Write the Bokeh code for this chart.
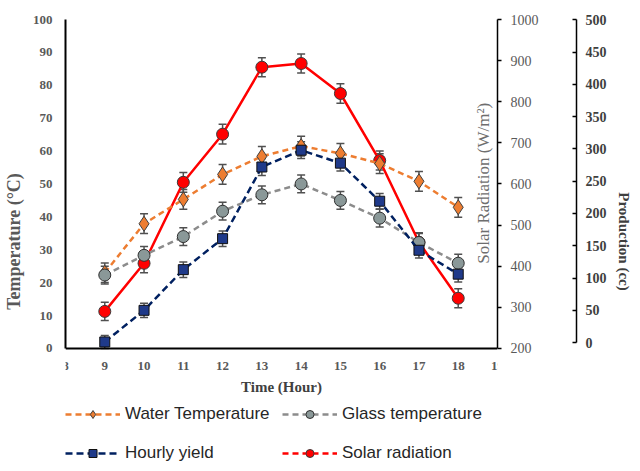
from math import pi
from bokeh.plotting import figure
from bokeh.models import (Range1d, LinearAxis, ColumnDataSource, Whisker, TeeHead,
                          Legend, LegendItem, Label, FixedTicker)
from bokeh.embed import file_html
from bokeh.resources import INLINE

# ---- data ----
hours = [9, 10, 11, 12, 13, 14, 15, 16, 17, 18]
water_temp = [23.0, 37.9, 45.3, 52.9, 58.4, 61.5, 59.3, 56.2, 50.8, 42.9]
water_err = [3.0, 3.0, 3.0, 3.0, 3.0, 3.0, 3.0, 3.0, 3.0, 3.0]
glass_temp = [22.3, 28.3, 34.0, 41.7, 46.7, 50.0, 45.0, 39.6, 32.2, 25.9]
glass_err = [2.7, 2.7, 2.7, 2.7, 2.7, 2.7, 2.7, 2.7, 2.7, 2.7]
hourly_yield = [1, 50, 113, 161, 272, 298, 278, 219, 143, 106]
yield_err = [10, 11, 12, 12, 13, 13, 12, 12, 12, 12]
solar_rad = [290, 407, 604, 721, 884, 893, 820, 657, 458, 322]
solar_err = [22, 23, 24, 24, 23, 23, 24, 23, 23, 23]

x_ticks = [8, 9, 10, 11, 12, 13, 14, 15, 16, 17, 18, 19]
temp_ticks = [0, 10, 20, 30, 40, 50, 60, 70, 80, 90, 100]
solar_ticks = [200, 300, 400, 500, 600, 700, 800, 900, 1000]
prod_ticks = [0, 50, 100, 150, 200, 250, 300, 350, 400, 450, 500]

legend_labels = ["Water Temperature", "Glass temperature", "Hourly yield", "Solar radiation"]

SERIF = "Liberation Serif"
SANS = "Liberation Sans"

# series styles
ORANGE = dict(line_color="#ED7D31", line_width=2.5, line_dash="6 4")
ORANGE_M = dict(marker="diamond", size=15, fill_color="#ED7D31", line_color="#404040", line_width=1)
GRAY = dict(line_color="#8C8C8C", line_width=2.5, line_dash="6 4")
GRAY_M = dict(marker="circle", size=12, fill_color="#8A9898", line_color="#303030", line_width=1)
NAVY = dict(line_color="#002060", line_width=2.5, line_dash="7 4")
NAVY_M = dict(marker="square", size=10, fill_color="#1F3A8A", line_color="#101010", line_width=1)
RED = dict(line_color="#FF0000", line_width=2.5)
RED_DASH = dict(line_color="#FF0000", line_width=2.5, line_dash="6 4")
RED_M = dict(marker="circle", size=12, fill_color="#FF0000", line_color="#3A3A3A", line_width=1)

# The frame reaches below the temperature axis so that the legend can sit under the chart;
# the x axis is drawn at temperature 0.
p = figure(frame_width=432, frame_height=444,
           output_backend="svg", toolbar_location=None,
           x_range=Range1d(8, 19), y_range=Range1d(-35, 100),
           min_border_left=57, min_border_right=0, min_border_top=19,
           min_border_bottom=0)
p.extra_y_ranges = {"solar": Range1d(-80, 1000), "prod": Range1d(-187.3, 500.5)}
p.outline_line_color = None
p.xgrid.visible = False
p.ygrid.visible = False

def style_axis(ax, size="13px", color="#595959", bold=True):
    ax.major_label_text_font = SERIF
    ax.major_label_text_font_size = size
    ax.major_label_text_color = color
    ax.major_label_text_font_style = "bold" if bold else "normal"
    ax.minor_tick_line_color = None
    ax.axis_line_color = "black"

# bottom axis, drawn at temperature 0
xa = p.xaxis[0]
xa.ticker = FixedTicker(ticks=x_ticks)
xa.fixed_location = 0
style_axis(xa)
xa.major_tick_in = 0
xa.major_tick_out = 0
xa.axis_line_width = 2
xa.major_label_standoff = 14
xa.axis_label = "Time (Hour)"
xa.axis_label_text_font = SERIF
xa.axis_label_text_font_style = "bold"
xa.axis_label_text_font_size = "15px"
xa.axis_label_text_color = "#404040"
xa.axis_label_standoff = 5

# left axis
ya = p.yaxis[0]
ya.ticker = FixedTicker(ticks=temp_ticks)
ya.bounds = (0, 100)
style_axis(ya)
ya.major_tick_in = 0
ya.major_tick_out = 0
ya.axis_line_width = 2
ya.major_label_standoff = 13
ya.axis_label = "Temperature (°C)"
ya.axis_label_text_font = SERIF
ya.axis_label_text_font_style = "bold"
ya.axis_label_text_font_size = "18px"
ya.axis_label_text_color = "#595959"
ya.axis_label_standoff = 6

# solar axis (right, next to the frame)
sa = LinearAxis(y_range_name="solar", ticker=FixedTicker(ticks=solar_ticks), bounds=(200, 1000))
style_axis(sa, bold=False, size="14px")
sa.major_tick_in = 0
sa.major_tick_out = 4
sa.axis_line_width = 1.5
sa.major_tick_line_width = 1.5
sa.major_label_standoff = 9
sa.axis_label = "\u00a0"
sa.axis_label_text_font_size = "16px"
sa.axis_label_standoff = 15
p.add_layout(sa, "right")

# production axis (outer right)
pa = LinearAxis(y_range_name="prod", ticker=FixedTicker(ticks=prod_ticks), bounds=(0, 500))
style_axis(pa, size="14px", color="#3F3F3F")
pa.major_tick_in = 4
pa.major_tick_out = 0
pa.axis_line_width = 1.5
pa.major_tick_line_width = 1.5
pa.major_label_standoff = 9
pa.axis_label = "Production (cc)"
pa.axis_label_text_font = SERIF
pa.axis_label_text_font_style = "bold"
pa.axis_label_text_font_size = "15px"
pa.axis_label_text_color = "#3F3F3F"
pa.axis_label_standoff = 6
p.add_layout(pa, "right")

ERR_COLOR = "#505050"

def add_err(y, err, rng=None):
    src = ColumnDataSource(dict(x=hours, lo=[a - b for a, b in zip(y, err)],
                                hi=[a + b for a, b in zip(y, err)]))
    kw = {} if rng is None else {"y_range_name": rng}
    w = Whisker(source=src, base="x", lower="lo", upper="hi", line_color=ERR_COLOR,
                line_width=1.5,
                lower_head=TeeHead(size=8, line_color=ERR_COLOR, line_width=1.5),
                upper_head=TeeHead(size=8, line_color=ERR_COLOR, line_width=1.5), **kw)
    p.add_layout(w)

# solar radiation (red, solid in chart)
red_line = p.line(hours, solar_rad, y_range_name="solar", **RED)
add_err(solar_rad, solar_err, "solar")
red_pts = p.scatter(hours, solar_rad, y_range_name="solar", **RED_M)

# water temperature (orange)
or_line = p.line(hours, water_temp, **ORANGE)
add_err(water_temp, water_err)
or_pts = p.scatter(hours, water_temp, **ORANGE_M)

# glass temperature (gray)
gr_line = p.line(hours, glass_temp, **GRAY)
add_err(glass_temp, glass_err)
gr_pts = p.scatter(hours, glass_temp, **GRAY_M)

# hourly yield (navy)
bl_line = p.line(hours, hourly_yield, y_range_name="prod", **NAVY)
add_err(hourly_yield, yield_err, "prod")
bl_pts = p.scatter(hours, hourly_yield, y_range_name="prod", **NAVY_M)

# dashed red line used only for the legend (its points lie outside the ranges)
red_leg = p.line([-5, -4], [-5, -4], **RED_DASH)

p.add_layout(Label(x=18.64, y=50.2, text="Solar Radiation (W/m²)", angle=pi / 2,
                   text_align="center", text_baseline="middle", text_font=SERIF,
                   text_font_size="17px", text_color="#6E6E6E"))

rows = [
    ([LegendItem(label=legend_labels[0], renderers=[or_line, or_pts]),
      LegendItem(label=legend_labels[1], renderers=[gr_line, gr_pts])], (0, 39)),
    ([LegendItem(label=legend_labels[2], renderers=[bl_line, bl_pts]),
      LegendItem(label=legend_labels[3], renderers=[red_leg, red_pts])], (0, 0)),
]
for items, loc in rows:
    lg = Legend(items=items, orientation="horizontal", location=loc)
    lg.label_text_font = SANS
    lg.label_text_font_size = "17px"
    lg.label_text_color = "#262626"
    lg.glyph_width = 55
    lg.glyph_height = 20
    lg.label_height = 20
    lg.label_width = 147
    lg.label_standoff = 5
    lg.spacing = 10
    lg.padding = 3
    lg.margin = 0
    lg.border_line_color = None
    lg.background_fill_alpha = 0
    p.add_layout(lg, "center")

open("out.html", "w").write(file_html(p, INLINE))
